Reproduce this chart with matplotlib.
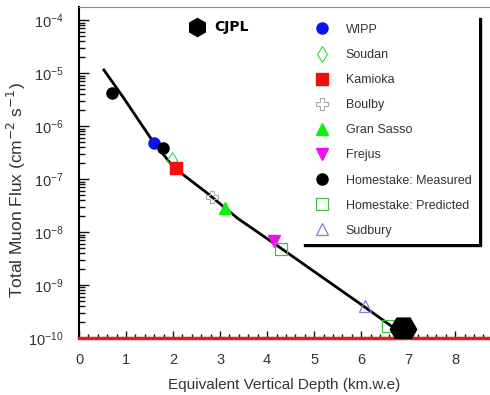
import numpy as np
import matplotlib.pyplot as plt
from matplotlib.ticker import LogLocator, MultipleLocator, NullFormatter

# fit curve
curve_x = [0.53, 0.94, 1.51, 2.0, 2.72, 3.38, 4.21, 5.0, 6.0, 6.72]
curve_y = [1.15e-5, 3.5e-6, 6.2e-7, 1.7e-7, 5.5e-8, 1.8e-8, 5.6e-9, 1.8e-9, 4.3e-10, 1.5e-10]

# measurements
sites = ["WIPP", "Soudan", "Kamioka", "Boulby", "Gran Sasso", "Frejus",
         "Homestake: Measured", "Homestake: Predicted", "Sudbury"]
site_x = [[1.6], [1.98], [2.06], [2.83], [3.1], [4.15], [0.7, 1.79], [4.3, 6.57], [6.09]]
site_y = [[4.8e-7], [2.3e-7], [1.6e-7], [4.6e-8], [2.8e-8], [6.7e-9],
          [4.2e-6, 3.8e-7], [4.8e-9, 1.7e-10], [4.0e-10]]

cjpl_x = [6.89]
cjpl_y = [1.5e-10]

styles = [
    dict(marker="o", color="#0a14f0", mfc="#0a14f0", ms=8),
    dict(marker="d", color="#33dd33", mfc="none", ms=8, mew=0.8),
    dict(marker="s", color="#f01010", mfc="#f01010", ms=8),
    dict(marker="P", color="#aaaaaa", mfc="none", ms=9, mew=0.8),
    dict(marker="^", color="#11ee11", mfc="#11ee11", ms=8),
    dict(marker="v", color="#ee11ee", mfc="#ee11ee", ms=8),
    dict(marker="o", color="black", mfc="black", ms=8),
    dict(marker="s", color="#44bb44", mfc="none", ms=9, mew=0.9),
    dict(marker="^", color="#8080dd", mfc="none", ms=9, mew=0.9),
]

plt.rcParams['font.family'] = ['Liberation Sans', 'DejaVu Sans']
fig = plt.figure(figsize=(4.9, 3.95), dpi=100)
ax = fig.add_axes([79 / 490, 1 - 338 / 395, 411 / 490, 331 / 395])

ax.plot(curve_x, curve_y, color="black", lw=2, zorder=3)
for name, xs, ys, st in zip(sites, site_x, site_y, styles):
    ax.plot(xs, ys, ls="none", label=name, zorder=4, **st)

ax.plot(cjpl_x, cjpl_y, ls="none", marker="H", ms=19, color="black", zorder=6)

ax.set_yscale("log")
ax.set_xlim(0, 8.74)
ax.set_ylim(1e-10, 10 ** -3.75)
ax.xaxis.set_major_locator(MultipleLocator(1))
ax.xaxis.set_minor_locator(MultipleLocator(0.2))
ax.yaxis.set_major_locator(LogLocator(base=10, numticks=100))
ax.yaxis.set_minor_locator(LogLocator(base=10, subs=np.arange(2, 10), numticks=100))
ax.yaxis.set_minor_formatter(NullFormatter())
ax.tick_params(which="both", direction="in", top=False, right=False,
               color="#111111", width=1.0, labelcolor="#333333", labelsize=10.5)
ax.tick_params(axis="y", which="major", length=7, pad=11)
ax.tick_params(axis="y", which="minor", length=4)
ax.tick_params(axis="x", which="major", length=5, pad=11)
ax.tick_params(axis="x", which="minor", length=3)

ax.spines["right"].set_visible(False)
ax.spines["top"].set_color("#888888")
ax.spines["left"].set_linewidth(1.5)
ax.spines["bottom"].set_color("#e02020")
ax.spines["bottom"].set_linewidth(2.5)

ax.set_xlabel("Equivalent Vertical Depth (km.w.e)", fontsize=11, color="#333333", labelpad=8)
ax.set_ylabel("Total Muon Flux (cm$^{-2}$ s$^{-1}$)", fontsize=12.5, color="#333333")
ax.yaxis.set_label_coords((28 - 79) / 411, (338 - 190) / 331)

# CJPL tag
ax.plot([0.286], [0.94], transform=ax.transAxes, marker="h", ms=13, color="black",
        ls="none", clip_on=False, zorder=6)
ax.text(0.33, 0.94, "CJPL", transform=ax.transAxes, fontsize=10, fontweight="bold",
        family="DejaVu Sans", va="center", ha="left")

leg = ax.legend(loc="upper right", bbox_to_anchor=((485 - 79) / 411, (338 - 10) / 331),
                fontsize=9, labelspacing=1.05, handletextpad=0.9, borderpad=0.6,
                fancybox=False, edgecolor="none", framealpha=1,
                shadow={"color": "black", "alpha": 1, "ox": 1.5, "oy": -1.5})
for t in leg.get_texts():
    t.set_color("#333333")

fig.savefig("out.png", dpi=100)
